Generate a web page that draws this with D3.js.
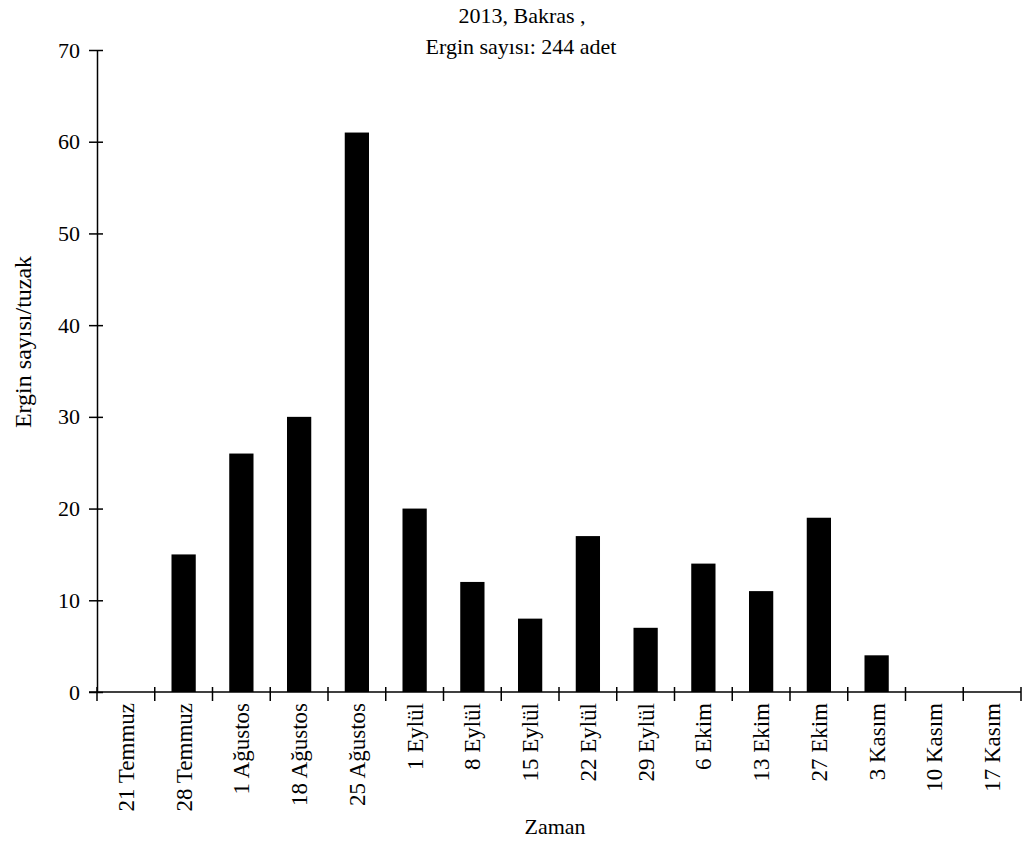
<!DOCTYPE html>
<html>
<head>
<meta charset="utf-8">
<script src="https://cdn.jsdelivr.net/npm/d3@7"></script>
<style>
  html, body { margin: 0; padding: 0; background: #fff; }
  text { font-family: "Liberation Serif", "Times New Roman", serif; fill: #000; }
</style>
</head>
<body>
<svg id="chart" width="1022" height="841"></svg>
<script>
const categories = ["21 Temmuz", "28 Temmuz", "1 Ağustos", "18 Ağustos", "25 Ağustos", "1 Eylül", "8 Eylül", "15 Eylül", "22 Eylül", "29 Eylül", "6 Ekim", "13 Ekim", "27 Ekim", "3 Kasım", "10 Kasım", "17 Kasım"];
const values = [0, 15, 26, 30, 61, 20, 12, 8, 17, 7, 14, 11, 19, 4, 0, 0];
const yTicks = [0, 10, 20, 30, 40, 50, 60, 70];
const titleLines = ["2013, Bakras ,", "Ergin sayısı: 244 adet"];
const xTitle = "Zaman";
const yTitle = "Ergin sayısı/tuzak";

const svg = d3.select("#chart");
const mLeft = 97, mRight = 1021, mTop = 50, mBottom = 692;

const x = d3.scaleBand().domain(categories).range([mLeft, mRight]).paddingInner(0.58).paddingOuter(0.29);
const xEdges = d3.scaleLinear().domain([0, categories.length]).range([mLeft, mRight]);
const y = d3.scaleLinear().domain([0, 70]).range([mBottom, mTop]);

// bars
svg.append("g").selectAll("rect").data(values).join("rect")
  .attr("x", (d, i) => x(categories[i]))
  .attr("width", x.bandwidth())
  .attr("y", d => y(d))
  .attr("height", d => y(0) - y(d))
  .attr("fill", "#000");

// y axis
const yAxis = svg.append("g").attr("transform", `translate(${mLeft},0)`)
  .call(d3.axisLeft(y).tickValues(yTicks).tickSize(0).tickPadding(17).tickSizeOuter(0));
yAxis.select(".domain").attr("stroke", "#000").attr("stroke-width", 1.5);
yAxis.selectAll(".tick text").attr("font-size", 22).attr("font-family", "Liberation Serif");
yAxis.selectAll(".tick").append("line")
  .attr("x1", -8).attr("x2", 6).attr("stroke", "#000").attr("stroke-width", 1.5);

// x axis line
svg.append("line").attr("x1", mLeft - 8).attr("x2", mRight).attr("y1", mBottom).attr("y2", mBottom)
  .attr("stroke", "#000").attr("stroke-width", 1.5);
// x ticks at band edges
svg.append("g").selectAll("line").data(d3.range(categories.length + 1)).join("line")
  .attr("x1", d => xEdges(d)).attr("x2", d => xEdges(d))
  .attr("y1", mBottom - 5).attr("y2", mBottom + 9)
  .attr("stroke", "#000").attr("stroke-width", 1.5);

// x labels
svg.append("g").selectAll("text").data(categories).join("text")
  .attr("transform", d => `translate(${x(d) + x.bandwidth() / 2},703) rotate(-90)`)
  .attr("text-anchor", "end")
  .attr("dy", "0.35em")
  .attr("font-size", 23)
  .text(d => d);

// titles
svg.append("text").attr("x", 522).attr("y", 23).attr("text-anchor", "middle")
  .attr("font-size", 22).text(titleLines[0]);
svg.append("text").attr("x", 521).attr("y", 54).attr("text-anchor", "middle")
  .attr("font-size", 22).text(titleLines[1]);

svg.append("text").attr("x", 555).attr("y", 834).attr("text-anchor", "middle")
  .attr("font-size", 22).text(xTitle);

svg.append("text").attr("transform", "translate(31,342) rotate(-90)")
  .attr("text-anchor", "middle").attr("font-size", 24).text(yTitle);
</script>
</body>
</html>
